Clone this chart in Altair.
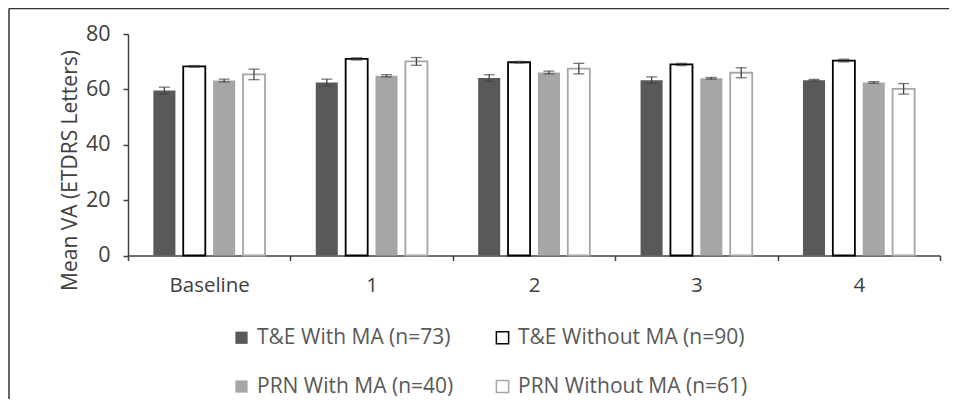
import altair as alt
import pandas as pd

timepoints = ["Baseline", "1", "2", "3", "4"]
series = ["T&E With MA (n=73)", "T&E Without MA (n=90)", "PRN With MA (n=40)", "PRN Without MA (n=61)"]

te_with = [59.6, 62.5, 64.1, 63.3, 63.3]
te_with_err = [1.2, 1.2, 1.2, 1.2, 0.3]
te_without = [68.3, 71.0, 69.8, 69.0, 70.4]
te_without_err = [0.3, 0.4, 0.3, 0.4, 0.5]
prn_with = [63.2, 64.9, 66.1, 64.0, 62.5]
prn_with_err = [0.5, 0.4, 0.5, 0.3, 0.3]
prn_without = [65.4, 70.1, 67.5, 66.0, 60.2]
prn_without_err = [1.9, 1.4, 1.9, 1.8, 1.9]

means = [te_with, te_without, prn_with, prn_without]
errs = [te_with_err, te_without_err, prn_with_err, prn_without_err]

fills = {series[0]: "#595959", series[1]: "#ffffff", series[2]: "#a6a6a6", series[3]: "#ffffff"}
strokes = {series[0]: "rgba(0,0,0,0)", series[1]: "#000000", series[2]: "rgba(0,0,0,0)", series[3]: "#a6a6a6"}
# legend fills column by column: column 1 = "With", column 2 = "Without"
legend_order = [series[0], series[2], series[1], series[3]]

rows = []
for s, m, e in zip(series, means, errs):
    for t, v, d in zip(timepoints, m, e):
        rows.append({"time": t, "series": s, "mean": v, "lo": v - d, "hi": v + d})
df = pd.DataFrame(rows)

FONT = "Open Sans"
AX = "#404040"

x_enc = alt.X(
    "time:N", sort=timepoints,
    scale=alt.Scale(paddingInner=0, paddingOuter=0),
    axis=alt.Axis(title=None, labelAngle=0, tickBand="extent", tickSize=5,
                  labelPadding=15, labelFontSize=20.5, labelFont=FONT, labelColor="#404040",
                  domainColor=AX, tickColor=AX, domainWidth=1.5, tickWidth=1.5, grid=False),
)
xo_enc = alt.XOffset("series:N", sort=series, scale=alt.Scale(paddingInner=0.262, paddingOuter=0.849))

base = alt.Chart(df).encode(x=x_enc, xOffset=xo_enc)

bars = base.mark_bar(strokeWidth=1.8).encode(
    y=alt.Y("mean:Q", scale=alt.Scale(domain=[0, 80]),
            axis=alt.Axis(values=[0, 20, 40, 60, 80], title="Mean VA (ETDRS Letters)", grid=False,
                          tickSize=5, labelPadding=13, labelFontSize=21.5, labelFont=FONT,
                          labelColor="#404040", domainColor=AX, tickColor=AX,
                          domainWidth=1.5, tickWidth=1.5,
                          titleFont=FONT, titleFontSize=21, titleFontWeight="normal",
                          titleColor="#404040", titleAngle=270, titleX=-58, titleY=136,
                          titleBaseline="middle", titleAlign="center")),
    fill=alt.Fill("series:N",
                  scale=alt.Scale(domain=legend_order, range=[fills[s] for s in legend_order]),
                  legend=alt.Legend(title=None, orient="none", legendX=103, legendY=293,
                                    columns=2, columnPadding=38, rowPadding=27,
                                    symbolType="square", symbolSize=150, symbolStrokeWidth=1.5,
                                    labelFont=FONT, labelFontSize=21, labelColor="#595959",
                                    labelOffset=5, labelLimit=0, padding=0)),
    stroke=alt.Stroke("series:N",
                      scale=alt.Scale(domain=legend_order, range=[strokes[s] for s in legend_order])),
)

rules = base.mark_rule(color=AX, strokeWidth=1.3).encode(y="lo:Q", y2="hi:Q")
cap_lo = base.mark_tick(color=AX, size=11, thickness=1.3, orient="horizontal").encode(y="lo:Q")
cap_hi = base.mark_tick(color=AX, size=11, thickness=1.3, orient="horizontal").encode(y="hi:Q")

one = pd.DataFrame({"a": [0]})
frame_top = alt.Chart(one).mark_rule(stroke="#333333", strokeWidth=1.5).encode(
    x=alt.value(-119), x2=alt.value(821), y=alt.value(-25.5)
)
frame_left = alt.Chart(one).mark_rule(stroke="#333333", strokeWidth=1.5).encode(
    x=alt.value(-119), y=alt.value(-25.5), y2=alt.value(366)
)

chart = alt.layer(bars, rules, cap_lo, cap_hi, frame_top, frame_left).properties(
    width=812, height=221.5,
    autosize=alt.AutoSizeParams(type="none"),
    padding={"left": 120, "top": 26, "right": 9, "bottom": 143},
    background="white",
).configure_view(strokeWidth=0)

chart.save("out.html", embed_options={"renderer": "svg", "actions": False})
